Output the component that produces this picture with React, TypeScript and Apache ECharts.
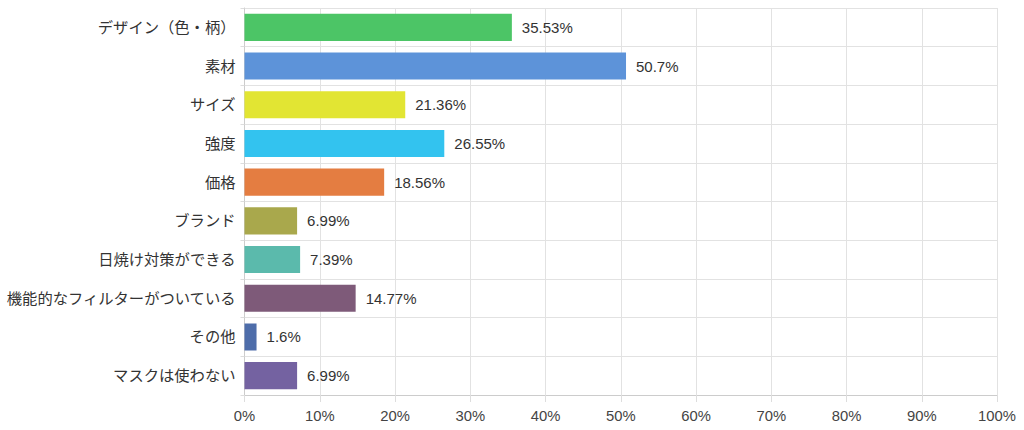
import React, { useEffect, useRef } from "react";
import * as echarts from "echarts";

const categories = [
  "デザイン（色・柄）",
  "素材",
  "サイズ",
  "強度",
  "価格",
  "ブランド",
  "日焼け対策ができる",
  "機能的なフィルターがついている",
  "その他",
  "マスクは使わない",
];
const values = [35.53, 50.7, 21.36, 26.55, 18.56, 6.99, 7.39, 14.77, 1.6, 6.99];
const colors = [
  "#4cc566",
  "#5d93d9",
  "#e2e533",
  "#33c3ef",
  "#e47d41",
  "#a9a84c",
  "#5bbaac",
  "#7e5a79",
  "#4e6daa",
  "#7462a1",
];

const FONT = "'Liberation Sans', Arial, 'Noto Sans CJK JP', sans-serif";

export default function App() {
  const ref = useRef<HTMLDivElement>(null);
  useEffect(() => {
    if (!ref.current) return;
    const chart = echarts.init(ref.current, undefined, { renderer: "svg" });
    chart.setOption({
      animation: false,
      grid: { left: 244.5, right: 27, top: 8, bottom: 35, containLabel: false },
      xAxis: {
        type: "value",
        min: 0,
        max: 100,
        interval: 10,
        axisLine: { show: true, lineStyle: { color: "#cccccc" } },
        axisTick: { show: true, length: 7, lineStyle: { color: "#dddddd" } },
        splitLine: { show: true, lineStyle: { color: "#e2e2e2" } },
        axisLabel: {
          formatter: "{value}%",
          color: "#444",
          fontSize: 14.8,
          fontFamily: FONT,
          margin: 14,
        },
      },
      yAxis: {
        type: "category",
        inverse: true,
        data: categories,
        axisLine: { show: true, lineStyle: { color: "#cccccc" } },
        axisTick: { show: true, length: 4, lineStyle: { color: "#dddddd" } },
        splitLine: { show: true, lineStyle: { color: "#e2e2e2" } },
        axisLabel: {
          color: "#333",
          fontSize: 15.3,
          fontFamily: FONT,
          margin: 9,
        },
      },
      series: [
        {
          type: "bar",
          data: values.map((v, i) => ({ value: v, itemStyle: { color: colors[i] } })),
          barCategoryGap: "30%",
          label: {
            show: true,
            position: "right",
            distance: 10,
            formatter: "{c}%",
            color: "#333",
            fontSize: 15,
            fontFamily: FONT,
          },
        },
      ],
    });
    return () => chart.dispose();
  }, []);
  return (
    <div
      ref={ref}
      style={{ position: "absolute", left: 0, top: 0, width: 1024, height: 430, background: "#fff" }}
    />
  );
}
